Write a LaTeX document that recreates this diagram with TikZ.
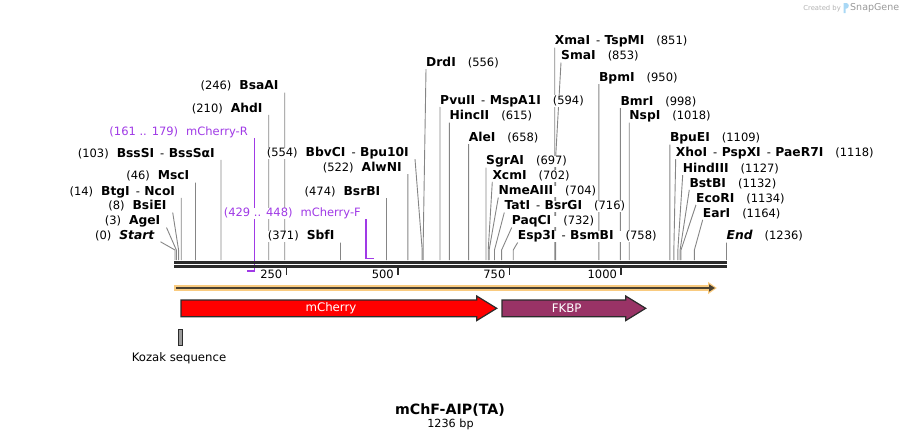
\documentclass[tikz,border=0pt]{standalone}
\usepackage{fontspec}
\setmainfont{DejaVu Sans}
\usetikzlibrary{arrows.meta}
\pgfdeclarelayer{background}
\pgfsetlayers{background,main}

\definecolor{cutgray}{HTML}{858585}
\definecolor{primer}{HTML}{A03AE6}
\definecolor{orfband}{HTML}{F9CB80}
\definecolor{orfline}{HTML}{4A4131}
\definecolor{cherry}{HTML}{FF0000}
\definecolor{fkbp}{HTML}{993366}
\definecolor{outline}{HTML}{2B2B2B}
\definecolor{kozak}{HTML}{9C9C9C}
\definecolor{logo}{HTML}{A9D8F5}

\begin{document}
\begin{tikzpicture}[x=1pt, y=-1pt,
    site/.style={fill=white, inner sep=0pt, text height=8.6pt, text depth=2.6pt,
        font=\fontsize{11.5}{13}\selectfont},
    cut/.style={draw=cutgray, line width=0.9pt},
    primerlabel/.style={site, text=primer},
    primerline/.style={draw=primer, line width=1.6pt},
    tick/.style={draw=outline, line width=1.6pt},
    ticklabel/.style={inner sep=0pt, font=\fontsize{11.5}{13}\selectfont},
    feature/.style={draw=outline, line width=1.2pt},
    featurelabel/.style={text=white, font=\fontsize{11.8}{13}\selectfont}]
\useasboundingbox (0,0) rectangle (902,440);

\def\bpx{0.4462}
\def\sitedash{\hspace{6pt}-\hspace{4.5pt}}
\def\nm#1{{\fontsize{12.3}{13}\selectfont\bfseries #1}}
% Variables: 1,2 := top of cut line, label y, 3 := site (bp), 4 := ID, 5 := text.
\def\lcut(#1,#2)#3#4#5{
    \node[site, anchor=east, xshift=-6pt] (#4) at (#1,#2) {#5};
    \begin{pgfonlayer}{background}
    \draw[cut] ([xshift=6pt]#4.south east) -- ({175+#3*\bpx},250) -- ({175+#3*\bpx},260);
    \end{pgfonlayer}
}
\def\rcut(#1,#2)#3#4#5{
    \node[site, anchor=west] (#4) at (#1,#2) {#5};
    \begin{pgfonlayer}{background}
    \draw[cut] (#4.south west) -- ({175+#3*\bpx},250) -- ({175+#3*\bpx},260);
    \end{pgfonlayer}
}

% backbone
\draw[outline, line width=3.2pt] (174,262.3) -- (726.7,262.3);
\draw[outline, line width=2.8pt] (174,266.4) -- (726.7,266.4);
\foreach \p in {250,500,750,1000}
    \draw[tick] ({175+\p*\bpx},267.5) -- ++(0,7)
        node[ticklabel, anchor=east, xshift=-3.5pt] (tick\p) {\p};

% sites left of their cut
\lcut(160.5,236){0}{startsite}{(0)\hspace{8pt}\nm{\itshape Start}}
\lcut(166.5,221.7){3}{agei}{(3)\hspace{8pt}\nm{AgeI}}
\lcut(172.7,206.7){8}{bsiei}{(8)\hspace{8pt}\nm{BsiEI}}
\lcut(181.25,192){14}{btgi}{(14)\hspace{8pt}\nm{BtgI}\sitedash\nm{NcoI}}
\lcut(195.5,176.7){46}{msci}{(46)\hspace{8pt}\nm{MscI}}
\lcut(220.96,154){103}{bsssi}{(103)\hspace{8pt}\nm{BssSI}\sitedash\nm{BssSαI}}
\lcut(268.7,109){210}{ahdi}{(210)\hspace{8pt}\nm{AhdI}}
\lcut(284.77,86.7){246}{bsaai}{(246)\hspace{8pt}\nm{BsaAI}}
\lcut(340.54,236.7){371}{sbfi}{(371)\hspace{8pt}\nm{SbfI}}
\lcut(386.5,192.3){474}{bsrbi}{(474)\hspace{8pt}\nm{BsrBI}}
\lcut(407.9,168.3){522}{alwni}{(522)\hspace{8pt}\nm{AlwNI}}
\lcut(415,153.3){554}{bbvci}{(554)\hspace{8pt}\nm{BbvCI}\sitedash\nm{Bpu10I}}

% sites right of their cut
\rcut(426,63.3){556}{drdi}{\nm{DrdI}\hspace{12pt}(556)}
\rcut(440.04,101){594}{pvuii}{\nm{PvuII}\sitedash\nm{MspA1I}\hspace{12pt}(594)}
\rcut(449.4,116.7){615}{hincii}{\nm{HincII}\hspace{12pt}(615)}
\rcut(468.6,138.3){658}{alei}{\nm{AleI}\hspace{12pt}(658)}
\rcut(486,161.7){697}{sgrai}{\nm{SgrAI}\hspace{12pt}(697)}
\rcut(492.3,176){702}{xcmi}{\nm{XcmI}\hspace{12pt}(702)}
\rcut(498.3,191.7){704}{nmeaiii}{\nm{NmeAIII}\hspace{12pt}(704)}
\rcut(504.3,206.7){716}{tati}{\nm{TatI}\sitedash\nm{BsrGI}\hspace{12pt}(716)}
\rcut(511.7,221.7){732}{paqci}{\nm{PaqCI}\hspace{12pt}(732)}
\rcut(517.7,236.7){758}{esp3i}{\nm{Esp3I}\sitedash\nm{BsmBI}\hspace{12pt}(758)}
\rcut(554.7,41.7){851}{xmai}{\nm{XmaI}\sitedash\nm{TspMI}\hspace{12pt}(851)}
\node[site, anchor=west] (smai) at (561,56.7) {\nm{SmaI}\hspace{12pt}(853)};
\begin{pgfonlayer}{background}
\draw[cut] (smai.south west) -- (555.6,158) -- (555.6,260);
\end{pgfonlayer}
\rcut(598.9,78.3){950}{bpmi}{\nm{BpmI}\hspace{12pt}(950)}
\rcut(620.3,102.3){998}{bmri}{\nm{BmrI}\hspace{12pt}(998)}
\rcut(629.2,116.7){1018}{nspi}{\nm{NspI}\hspace{12pt}(1018)}
\rcut(669.8,138.7){1109}{bpuei}{\nm{BpuEI}\hspace{12pt}(1109)}
\rcut(675.7,153.3){1118}{xhoi}{\nm{XhoI}\sitedash\nm{PspXI}\sitedash\nm{PaeR7I}\hspace{12pt}(1118)}
\rcut(682.7,169.3){1127}{hindiii}{\nm{HindIII}\hspace{12pt}(1127)}
\rcut(689.3,184){1132}{bstbi}{\nm{BstBI}\hspace{12pt}(1132)}
\rcut(696,199){1134}{ecori}{\nm{EcoRI}\hspace{12pt}(1134)}
\rcut(702.7,214){1164}{eari}{\nm{EarI}\hspace{12pt}(1164)}
\rcut(726.5,236.7){1236}{endsite}{\nm{\itshape End}\hspace{12pt}(1236)}

% primers
\node[primerlabel, anchor=east] (mchr) at (248,132.3) {(161 .. 179)\hspace{8pt}mCherry-R};
\node[primerlabel, anchor=east] (mchf) at (361,213.3) {(429 .. 448)\hspace{8pt}mCherry-F};
\begin{pgfonlayer}{background}
\draw[primerline] ([xshift=6.3pt]mchr.south east) |- (246.5,271);
\draw[primerline] ([xshift=4.7pt]mchf.south east) |- (373.5,258.3);
\end{pgfonlayer}

% ORF
\fill[orfband] (174,285.2) -- (708,285.2) -- (708,281.8) -- (716.8,288) -- (708,294.2)
    -- (708,290.8) -- (174,290.8) -- cycle;
\draw[orfline, line width=2.4pt, -{Triangle[length=6pt, width=7pt]}] (176,288) -- (715,288);

% features
\draw[feature, fill=cherry] (181,300) -- (476.7,300) -- (476.7,296) -- (496.7,308.3)
    -- (476.7,320.6) -- (476.7,316.7) -- (181,316.7) -- cycle;
\node[featurelabel] (mcherry) at (331,308.3) {mCherry};
\draw[feature, fill=fkbp] (502,300) -- (625.7,300) -- (625.7,296) -- (645.7,308.3)
    -- (625.7,320.6) -- (625.7,316.7) -- (502,316.7) -- cycle;
\node[featurelabel] (fkbp) at (566.7,308.3) {FKBP};
\node[draw=outline, line width=0.9pt, fill=kozak, inner sep=0pt,
    minimum width=4.4pt, minimum height=16.7pt] (kozak) at (180.5,337.3) {};
\node[font=\fontsize{11.7}{13}\selectfont] (kozaklabel) at (179,358.3) {Kozak sequence};

% title
\node[font=\bfseries\fontsize{14.2}{16}\selectfont] (title) at (450,410) {mChF-AIP(TA)};
\node[font=\fontsize{11.2}{12}\selectfont] (length) at (450.5,424.3) {1236 bp};

% credit
\node[anchor=east, text=black!30, inner sep=0pt, font=\fontsize{6.8}{8}\selectfont]
    (createdby) at (841,8.5) {Created by};
\fill[logo] (843.5,13) -- (843.5,3) -- (846.5,3) .. controls (849.5,3) and (849.5,8.5) .. (846.5,8.5)
    -- (845.6,8.5) -- (845.6,13) -- cycle;
\node[anchor=west, text=black!40, inner sep=0pt, font=\fontsize{9.5}{10}\selectfont]
    (snapgene) at (850,8) {SnapGene};
\end{tikzpicture}
\end{document}
